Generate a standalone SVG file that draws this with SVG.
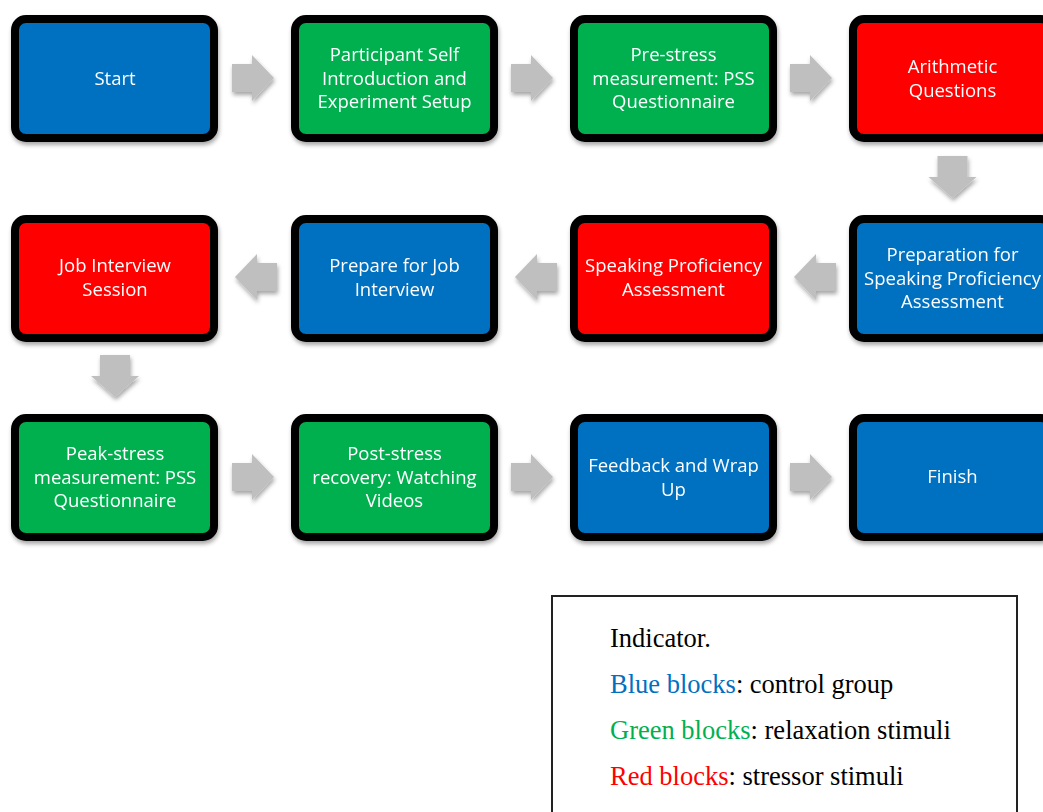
<svg xmlns="http://www.w3.org/2000/svg" width="1043" height="812" viewBox="0 0 1043 812">
<style>
.n{stroke:#000;stroke-width:8}
.b{fill:#0070C0}.g{fill:#00B050}.r{fill:#FF0000}
.t{font-family:"Open Sans","Noto Sans",sans-serif;font-size:18.5px;fill:#fff;text-anchor:middle}
.a{fill:#BFBFBF}
.l{font-family:"Liberation Serif","Times New Roman",serif;font-size:26.5px;fill:#000}
</style>
<defs>
<filter id="sh" x="-10%" y="-10%" width="125%" height="130%">
<feDropShadow dx="1" dy="3" stdDeviation="2" flood-color="#000" flood-opacity="0.35"/>
</filter>
<path id="ar" d="M-21,-14 H-1 V-23 L21,0 L-1,23 V14 H-21 Z"/>
<path id="ad" d="M-15,-21 H15 V0 L24,0 L0,21 L-24,0 L-15,0 Z"/>
</defs>
<rect width="1043" height="812" fill="#fff"/>
<g id="connectors" class="a" filter="url(#sh)">
<use href="#ar" x="253" y="78"/>
<use href="#ar" x="532" y="78"/>
<use href="#ar" x="811" y="78"/>
<use href="#ad" x="952.5" y="177"/>
<use href="#ar" transform="translate(815,277) scale(-1,1)"/>
<use href="#ar" transform="translate(536,277) scale(-1,1)"/>
<use href="#ar" transform="translate(256,277) scale(-1,1)"/>
<use href="#ad" x="115" y="376"/>
<use href="#ar" x="253" y="477"/>
<use href="#ar" x="532" y="477"/>
<use href="#ar" x="811" y="477"/>
</g>
<g id="n1" filter="url(#sh)"><rect class="n b" x="15" y="19" width="199" height="119" rx="11"/><text class="t" x="115" y="84.5">Start</text></g>
<g id="n2" filter="url(#sh)"><rect class="n g" x="295" y="19" width="199" height="119" rx="11"/><text class="t" x="394.5" y="61">Participant Self</text><text class="t" x="394.5" y="84.5">Introduction and</text><text class="t" x="394.5" y="108">Experiment Setup</text></g>
<g id="n3" filter="url(#sh)"><rect class="n g" x="574" y="19" width="199" height="119" rx="11"/><text class="t" x="673.5" y="61">Pre-stress</text><text class="t" x="673.5" y="84.5">measurement: PSS</text><text class="t" x="673.5" y="108">Questionnaire</text></g>
<g id="n4" filter="url(#sh)"><rect class="n r" x="853" y="19" width="199" height="119" rx="11"/><text class="t" x="952.5" y="73">Arithmetic</text><text class="t" x="952.5" y="96.5">Questions</text></g>
<g id="n5" filter="url(#sh)"><rect class="n b" x="853" y="219" width="199" height="119" rx="11"/><text class="t" x="952.5" y="261">Preparation for</text><text class="t" x="952.5" y="284.5">Speaking Proficiency</text><text class="t" x="952.5" y="308">Assessment</text></g>
<g id="n6" filter="url(#sh)"><rect class="n r" x="574" y="219" width="199" height="119" rx="11"/><text class="t" x="673.5" y="272">Speaking Proficiency</text><text class="t" x="673.5" y="295.5">Assessment</text></g>
<g id="n7" filter="url(#sh)"><rect class="n b" x="295" y="219" width="199" height="119" rx="11"/><text class="t" x="394.5" y="272">Prepare for Job</text><text class="t" x="394.5" y="295.5">Interview</text></g>
<g id="n8" filter="url(#sh)"><rect class="n r" x="15" y="219" width="199" height="119" rx="11"/><text class="t" x="115" y="272">Job Interview</text><text class="t" x="115" y="295.5">Session</text></g>
<g id="n9" filter="url(#sh)"><rect class="n g" x="15" y="418" width="199" height="119" rx="11"/><text class="t" x="115" y="460">Peak-stress</text><text class="t" x="115" y="483.5">measurement: PSS</text><text class="t" x="115" y="507">Questionnaire</text></g>
<g id="n10" filter="url(#sh)"><rect class="n g" x="295" y="418" width="199" height="119" rx="11"/><text class="t" x="394.5" y="460">Post-stress</text><text class="t" x="394.5" y="483.5">recovery: Watching</text><text class="t" x="394.5" y="507">Videos</text></g>
<g id="n11" filter="url(#sh)"><rect class="n b" x="574" y="418" width="199" height="119" rx="11"/><text class="t" x="673.5" y="472">Feedback and Wrap</text><text class="t" x="673.5" y="495.5">Up</text></g>
<g id="n12" filter="url(#sh)"><rect class="n b" x="853" y="418" width="199" height="119" rx="11"/><text class="t" x="952.5" y="483">Finish</text></g>
<g id="legend">
<rect x="552" y="596" width="465" height="230" fill="#fff" stroke="#222" stroke-width="2"/>
<text class="l" x="610" y="647">Indicator.</text>
<text class="l" x="610" y="693"><tspan fill="#0070C0">Blue blocks</tspan>: control group</text>
<text class="l" x="610" y="739"><tspan fill="#00B050">Green blocks</tspan>: relaxation stimuli</text>
<text class="l" x="610" y="785"><tspan fill="#FF0000">Red blocks</tspan>: stressor stimuli</text>
</g>
</svg>
